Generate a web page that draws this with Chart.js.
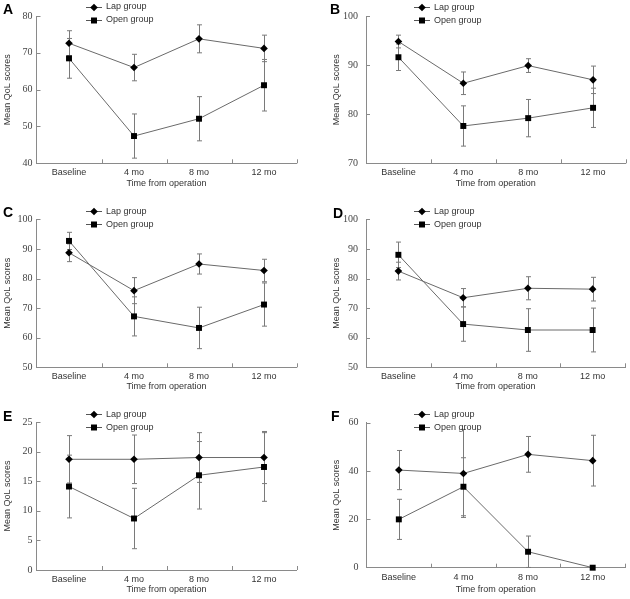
<!DOCTYPE html>
<html lang="en">
<head>
<meta charset="UTF-8">
<title>Mean QoL scores - Lap vs Open group</title>
<script src="https://cdn.jsdelivr.net/npm/chart.js"></script>
<style>
  body { margin: 0; background: #fff; }
  #wrap { position: relative; width: 630px; height: 599px; }
  .panel { position: absolute; }
</style>
</head>
<body>
<div id="wrap">
  <div class="panel" style="left:0;top:0;width:315px;height:200px"><canvas id="pA"></canvas></div>
  <div class="panel" style="left:315px;top:0;width:315px;height:200px"><canvas id="pB"></canvas></div>
  <div class="panel" style="left:0;top:200px;width:315px;height:200px"><canvas id="pC"></canvas></div>
  <div class="panel" style="left:315px;top:200px;width:315px;height:200px"><canvas id="pD"></canvas></div>
  <div class="panel" style="left:0;top:400px;width:315px;height:199px"><canvas id="pE"></canvas></div>
  <div class="panel" style="left:315px;top:400px;width:315px;height:199px"><canvas id="pF"></canvas></div>
</div>

<script>
// categories shared by all panels
const categories = ["Baseline", "4 mo", "8 mo", "12 mo"];

// mean values and SD per panel
const lapA = [72.6, 66.0, 73.8, 71.2];
const lapASd = [3.4, 3.6, 3.8, 3.6];
const openA = [68.5, 47.4, 52.1, 61.2];
const openASd = [5.4, 6.0, 6.0, 7.0];
const ticksA = [40, 50, 60, 70, 80];

const lapB = [94.8, 86.3, 89.9, 87.0];
const lapBSd = [1.3, 2.3, 1.4, 2.8];
const openB = [91.6, 77.6, 79.2, 81.3];
const openBSd = [2.7, 4.1, 3.8, 4.0];
const ticksB = [70, 80, 90, 100];

const lapC = [88.7, 75.9, 84.9, 82.7];
const lapCSd = [3.0, 4.4, 3.4, 3.8];
const openC = [92.7, 67.2, 63.3, 71.2];
const openCSd = [2.9, 6.6, 7.0, 7.3];
const ticksC = [50, 60, 70, 80, 90, 100];

const lapD = [82.5, 73.5, 76.7, 76.4];
const lapDSd = [3.0, 3.1, 3.9, 4.0];
const openD = [88.0, 64.6, 62.6, 62.6];
const openDSd = [4.3, 5.8, 7.2, 7.4];
const ticksD = [50, 60, 70, 80, 90, 100];

const lapE = [18.7, 18.7, 19.0, 19.0];
const lapESd = [4.0, 4.1, 4.2, 4.4];
const openE = [14.1, 8.7, 16.0, 17.4];
const openESd = [5.3, 5.1, 5.7, 5.8];
const ticksE = [0, 5, 10, 15, 20, 25];

const lapF = [40.4, 39.0, 46.9, 44.3];
const lapFSd = [8.1, 18.2, 7.4, 10.5];
const openF = [20.0, 33.5, 6.6, 0];
const openFSd = [8.3, 12.0, 6.5, 0];
const ticksF = [0, 20, 40, 60];

const SANS = "'Liberation Sans', Arial, sans-serif";
const SERIF = "'Liberation Serif', 'Times New Roman', serif";
const AXIS = '#8a8a8a';

// layout per panel (canvas-relative pixels)
const panels = [
  { id: 'pA', letter: 'A', lap: lapA, lapSd: lapASd, open: openA, openSd: openASd, ticks: ticksA,
    pad: { left: 0, right: 18.5, top: 16, bottom: 9.3 }, yW: 36.5, xH: 27.4, yPad: 4, leg: [86, 6.5], let: [3, 10.5] },
  { id: 'pB', letter: 'B', lap: lapB, lapSd: lapBSd, open: openB, openSd: openBSd, ticks: ticksB,
    pad: { left: 14.5, right: 4.5, top: 16, bottom: 9.3 }, yW: 36.5, xH: 27.4, yPad: 8, leg: [99, 7], let: [15, 10.5] },
  { id: 'pC', letter: 'C', lap: lapC, lapSd: lapCSd, open: openC, openSd: openCSd, ticks: ticksC,
    pad: { left: 0, right: 18.5, top: 19.3, bottom: 5.9 }, yW: 36.5, xH: 26.8, yPad: 4, leg: [86, 11], let: [3, 13.3] },
  { id: 'pD', letter: 'D', lap: lapD, lapSd: lapDSd, open: openD, openSd: openDSd, ticks: ticksD,
    pad: { left: 14.5, right: 5, top: 19.3, bottom: 5.9 }, yW: 36.5, xH: 26.8, yPad: 8, leg: [99, 11], let: [18, 13.7] },
  { id: 'pE', letter: 'E', lap: lapE, lapSd: lapESd, open: openE, openSd: openESd, ticks: ticksE,
    pad: { left: 0, right: 18.5, top: 22, bottom: 2.3 }, yW: 36.5, xH: 26.7, yPad: 4, leg: [86, 14], let: [3, 16.7] },
  { id: 'pF', letter: 'F', lap: lapF, lapSd: lapFSd, open: openF, openSd: openFSd, ticks: ticksF,
    pad: { left: 14.5, right: 5, top: 22.7, bottom: 2.3 }, yW: 37, xH: 29, yPad: 8, leg: [99, 14], let: [16, 17] }
];

function drawMarker(ctx, style, x, y) {
  ctx.fillStyle = '#000';
  ctx.beginPath();
  if (style === 'rectRot') {
    const r = 3.8;
    ctx.moveTo(x, y - r); ctx.lineTo(x + r, y); ctx.lineTo(x, y + r); ctx.lineTo(x - r, y);
  } else {
    const s = 3;
    ctx.rect(x - s, y - s, 2 * s, 2 * s);
  }
  ctx.closePath();
  ctx.fill();
}

const decorations = {
  id: 'decorations',
  beforeDatasetsDraw(chart, args, opts) {
    const ctx = chart.ctx;
    const xs = chart.scales.x, ys = chart.scales.y;
    const area = chart.chartArea;
    ctx.save();
    ctx.strokeStyle = AXIS;
    ctx.lineWidth = 1;
    // inward y ticks
    ys.ticks.forEach(t => {
      const py = Math.round(ys.getPixelForValue(t.value)) + 0.5;
      if (t.value === ys.min) return;
      ctx.beginPath(); ctx.moveTo(area.left, py); ctx.lineTo(area.left + 4, py); ctx.stroke();
    });
    // inward x ticks at category boundaries
    const step = xs.getPixelForValue(1) - xs.getPixelForValue(0);
    categories.forEach((c, i) => {
      const px = Math.round(xs.getPixelForValue(i) + step / 2) + 0.5;
      ctx.beginPath(); ctx.moveTo(px, area.bottom); ctx.lineTo(px, area.bottom - 4); ctx.stroke();
    });
    // error bars
    ctx.strokeStyle = '#7a7a7a';
    chart.data.datasets.forEach(ds => {
      ds.data.forEach((v, i) => {
        const sd = ds.sd[i];
        if (!sd) return;
        const px = Math.round(xs.getPixelForValue(i)) + 0.5;
        const top = ys.getPixelForValue(v + sd);
        const bot = ys.getPixelForValue(Math.max(v - sd, ys.min));
        ctx.beginPath();
        ctx.moveTo(px, top); ctx.lineTo(px, bot);
        ctx.moveTo(px - 2.5, top); ctx.lineTo(px + 2.5, top);
        if (v - sd > ys.min) { ctx.moveTo(px - 2.5, bot); ctx.lineTo(px + 2.5, bot); }
        ctx.stroke();
      });
    });
    ctx.restore();
  },
  afterDraw(chart, args, opts) {
    const ctx = chart.ctx;
    const p = opts.panel;
    ctx.save();
    // panel letter
    ctx.fillStyle = '#000';
    ctx.font = "bold 14px " + SANS;
    ctx.textBaseline = 'middle';
    ctx.textAlign = 'left';
    ctx.fillText(p.letter, p.let[0], p.let[1]);
    // legend
    const rows = [['Lap group', 'rectRot'], ['Open group', 'rect']];
    rows.forEach((r, k) => {
      const lx = p.leg[0], ly = p.leg[1] + k * 13;
      ctx.strokeStyle = '#555';
      ctx.lineWidth = 1;
      ctx.beginPath(); ctx.moveTo(lx, Math.round(ly) + 0.5); ctx.lineTo(lx + 16, Math.round(ly) + 0.5); ctx.stroke();
      drawMarker(ctx, r[1], lx + 8, Math.round(ly) + 0.5);
      ctx.fillStyle = '#333';
      ctx.font = "9px " + SANS;
      ctx.fillText(r[0], lx + 20, ly + 0.5);
    });
    ctx.restore();
  }
};

panels.forEach(p => {
  const tmin = p.ticks[0], tmax = p.ticks[p.ticks.length - 1];
  new Chart(document.getElementById(p.id), {
    type: 'line',
    data: {
      labels: categories,
      datasets: [
        { label: 'Lap group', data: p.lap, sd: p.lapSd, pointStyle: 'rectRot', pointRadius: 3.8,
          pointBackgroundColor: '#000', pointBorderWidth: 0, borderColor: '#6a6a6a', borderWidth: 1, clip: false },
        { label: 'Open group', data: p.open, sd: p.openSd, pointStyle: 'rect', pointRadius: 4.2,
          pointBackgroundColor: '#000', pointBorderWidth: 0, borderColor: '#6a6a6a', borderWidth: 1, clip: false }
      ]
    },
    options: {
      responsive: true,
      maintainAspectRatio: false,
      animation: false,
      layout: { padding: p.pad },
      plugins: {
        legend: { display: false },
        tooltip: { enabled: false },
        decorations: { panel: p }
      },
      scales: {
        x: {
          offset: true,
          grid: { display: false, drawTicks: false },
          border: { display: true, color: AXIS },
          ticks: { color: '#333', font: { family: SANS, size: 9 }, padding: 4, maxRotation: 0 },
          title: { display: true, text: 'Time from operation', color: '#333',
                   font: { family: SANS, size: 9 }, padding: { top: 0, bottom: 2 } },
          afterFit: s => { s.height = p.xH; }
        },
        y: {
          min: tmin, max: tmax,
          afterBuildTicks: s => { s.ticks = p.ticks.map(v => ({ value: v })); },
          grid: { display: false, drawTicks: false },
          border: { display: true, color: AXIS },
          ticks: { color: '#444', font: { family: SERIF, size: 10 }, padding: p.yPad },
          title: { display: true, text: 'Mean QoL scores', color: '#333',
                   font: { family: SANS, size: 9 }, padding: { top: 2, bottom: 0 } },
          afterFit: s => { s.width = p.yW; }
        }
      }
    },
    plugins: [decorations]
  });
});
</script>
</body>
</html>
